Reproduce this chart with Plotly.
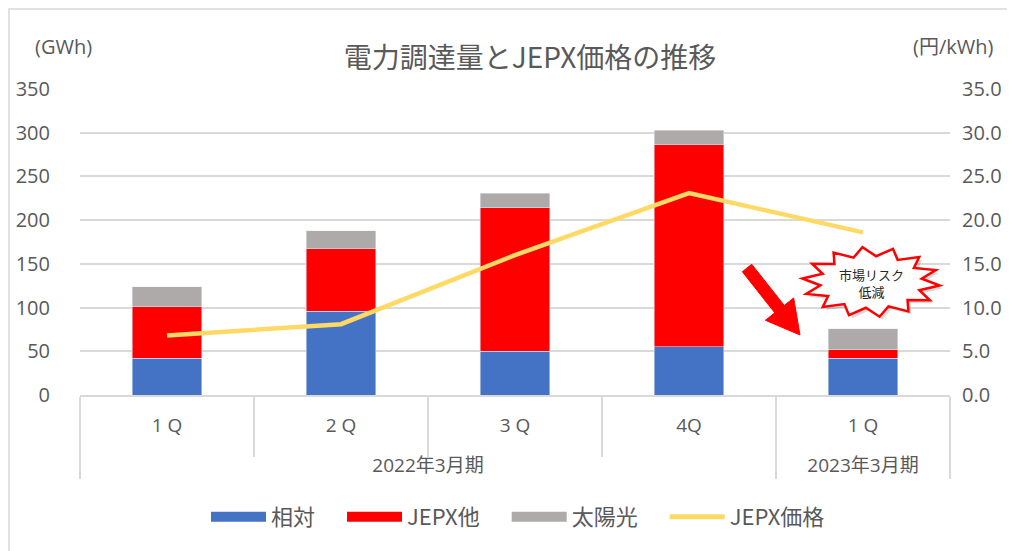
import numpy as np
import plotly.graph_objects as go

periods = ["2022年3月期", "2022年3月期", "2022年3月期", "2022年3月期", "2023年3月期"]
quarters = ["1 Q", "2 Q", "3 Q", "4Q", "1 Q"]
aitai = [42, 96, 50, 55, 42]
jepx_other = [59, 71, 164, 231, 10]
solar = [23, 21, 17, 17, 24]
jepx_price = [6.8, 8.1, 16.0, 23.1, 18.6]

series_names = ["相対", "JEPX他", "太陽光", "JEPX価格"]
colors = ["#4472C4", "#FF0000", "#AEAAAA", "#FFD966"]

TXT = "#595959"
FONT = "Open Sans, Noto Sans CJK JP, sans-serif"
x = [["\u00a0<br>" + p for p in periods], quarters]

fig = go.Figure()
for vals, nm, col in zip([aitai, jepx_other, solar], series_names[:3], colors[:3]):
    fig.add_bar(x=x, y=vals, name=nm, marker_color=col, width=0.4, showlegend=False)
fig.add_scatter(x=x, y=jepx_price, name=series_names[3], mode="lines",
                line=dict(color=colors[3], width=4.5), yaxis="y2", showlegend=False)
# legend entries (Excel-style wide swatches)
for i, (nm, col, w) in enumerate(zip(series_names, colors, [13, 13, 13, 5])):
    label = nm + ("\u2002\u2002" if i < 3 else "")
    fig.add_scatter(x=[None], y=[None], mode="lines", name=label,
                    line=dict(color=col, width=w), showlegend=True)

# page offset (browser body margin) and reference plot-area pixel geometry
OFF = 8
W, H = 1015 - OFF, 551 - OFF
L, R, T, B = 80, 950, 89, 395
def px(xp):
    return (xp - L) / (R - L)
def py(yp):
    return (B - yp) / (B - T)

shapes = []
shapes.append(dict(type="rect", xref="paper", yref="paper",
                   x0=px(9), x1=px(1040), y0=py(9), y1=py(580),
                   line=dict(color="#d9d9d9", width=1.5), fillcolor="rgba(0,0,0,0)", layer="below"))

# red arrow polygon
tail = np.array([747.0, 268.0])
tip = np.array([800.0, 335.0])
d = tip - tail
u = d / np.hypot(*d)
n = np.array([-u[1], u[0]])
hl, hw, sw = 33, 18, 6
base = tip - u * hl
pts = [tail + n * sw, base + n * sw, base + n * hw, tip, base - n * hw, base - n * sw, tail - n * sw]
path = "M " + " L ".join(f"{px(p[0]):.4f},{py(p[1]):.4f}" for p in pts) + " Z"
shapes.append(dict(type="path", xref="paper", yref="paper", path=path,
                   fillcolor="#FF0000", line=dict(color="#FF0000", width=1)))

# starburst callout
cx, cy, rx, ry = 871, 282, 69, 35
nsp = 14
ang = np.linspace(0, 2 * np.pi, 2 * nsp, endpoint=False) + 0.1
rad = np.where(np.arange(2 * nsp) % 2 == 0, 1.0, 0.74)
sx = cx + rx * rad * np.cos(ang)
sy = cy + ry * rad * np.sin(ang)
shadow = "M " + " L ".join(f"{px(a + 3):.4f},{py(b + 3):.4f}" for a, b in zip(sx, sy)) + " Z"
shapes.append(dict(type="path", xref="paper", yref="paper", path=shadow,
                   fillcolor="rgba(0,0,0,0.15)", line=dict(width=0)))
star = "M " + " L ".join(f"{px(a):.4f},{py(b):.4f}" for a, b in zip(sx, sy)) + " Z"
shapes.append(dict(type="path", xref="paper", yref="paper", path=star,
                   fillcolor="white", line=dict(color="#FF0000", width=2.5)))

annotations = [
    dict(text="(GWh)", xref="paper", yref="paper", x=px(63), y=py(46), showarrow=False,
         xanchor="center", yanchor="middle", font=dict(size=20, color=TXT, family=FONT)),
    dict(text="(円/kWh)", xref="paper", yref="paper", x=px(953), y=py(46), showarrow=False,
         xanchor="center", yanchor="middle", font=dict(size=20, color=TXT, family=FONT)),
    dict(text="市場リスク<br>低減", xref="paper", yref="paper", x=px(871), y=py(283), showarrow=False,
         xanchor="center", yanchor="middle",
         font=dict(size=13, color="#262626", family="Noto Sans CJK JP"), align="center"),
]

fig.update_layout(
    width=W, height=H,
    margin=dict(l=L - OFF, r=W - (R - OFF), t=T - OFF, b=H - (B - OFF)),
    paper_bgcolor="white", plot_bgcolor="white",
    barmode="stack",
    font=dict(family=FONT, color=TXT, size=19),
    title=dict(text="電力調達量とJEPX価格の推移", x=px(530), xref="paper", xanchor="center",
               y=1 - (58 - OFF) / H, yanchor="middle",
               font=dict(size=28, color=TXT, family="Noto Sans CJK JP")),
    xaxis=dict(type="multicategory", showdividers=True, dividercolor="#d9d9d9", dividerwidth=1.5,
               ticks="outside", tickson="boundaries", ticklen=60, tickcolor="#d9d9d9", tickwidth=1.5,
               showline=True, linecolor="#d9d9d9", linewidth=1.5, showgrid=False, automargin=False,
               ticklabelstandoff=12, tickfont=dict(size=19, color=TXT)),
    yaxis=dict(range=[0, 350], dtick=50, showgrid=True, gridcolor="#d9d9d9", gridwidth=1.5,
               zeroline=False, showline=False, ticklabelstandoff=29, automargin=False,
               tickfont=dict(size=20, color=TXT)),
    yaxis2=dict(range=[0, 35], dtick=5, tickformat=".1f", overlaying="y", side="right",
                showgrid=False, zeroline=False, showline=False, ticklabelstandoff=11, automargin=False,
                tickfont=dict(size=20, color=TXT)),
    legend=dict(orientation="h", x=px(518), xanchor="center", y=py(517), yanchor="middle",
                font=dict(size=22, color=TXT, family="Noto Sans CJK JP"), traceorder="normal",
                itemwidth=55),
    shapes=shapes,
    annotations=annotations,
)

fig.write_html("out.html")
